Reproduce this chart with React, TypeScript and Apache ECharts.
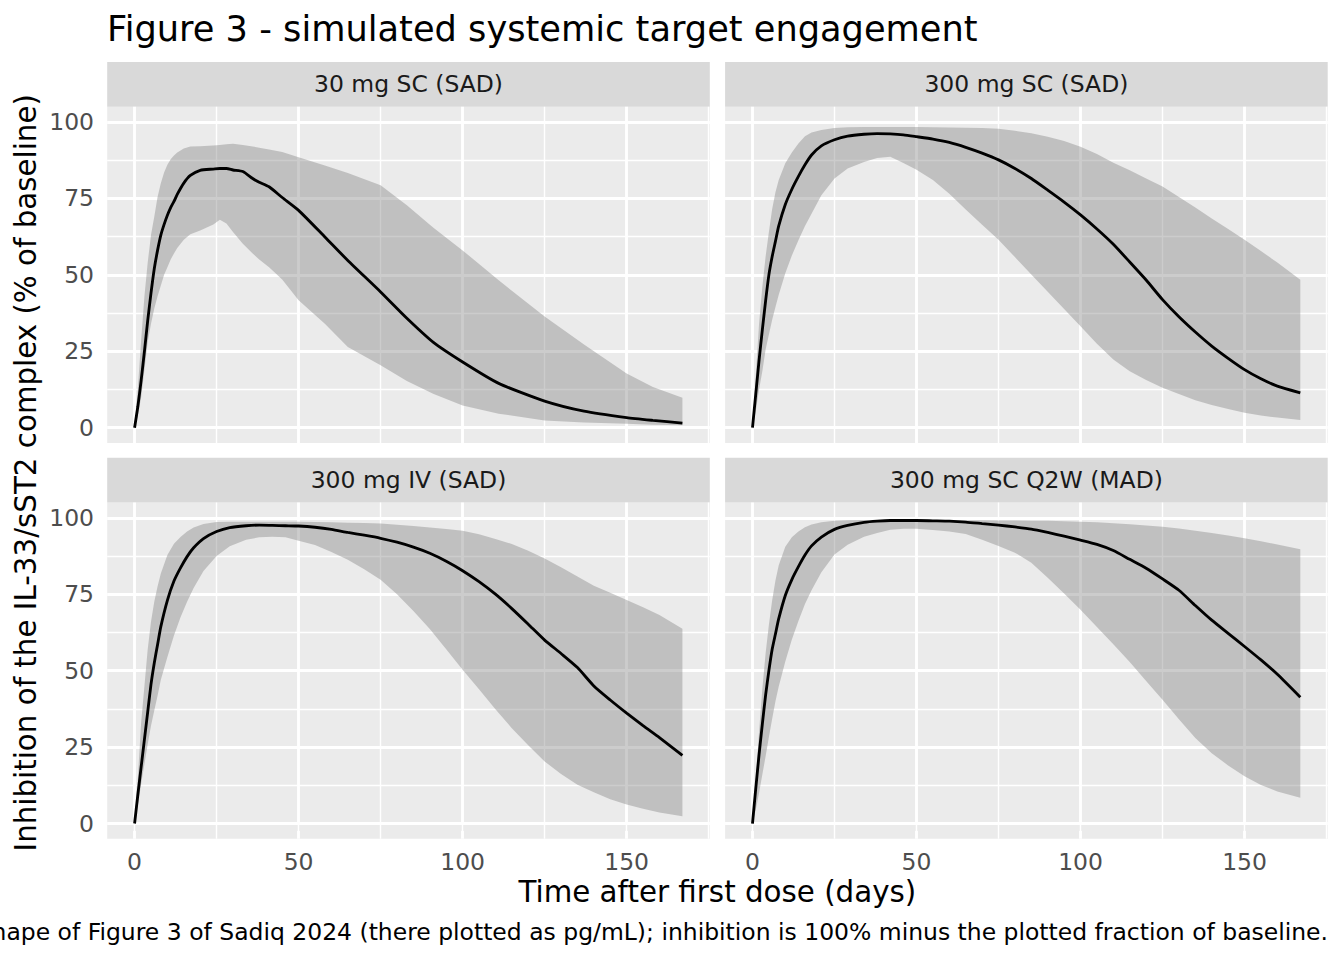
import React, { useEffect, useRef } from "react";
import * as echarts from "echarts";

const TITLE = "Figure 3 - simulated systemic target engagement";
const X_TITLE = "Time after first dose (days)";
const Y_TITLE = "Inhibition of the IL-33/sST2 complex (% of baseline)";
const CAPTION =
  "Shape of Figure 3 of Sadiq 2024 (there plotted as pg/mL); inhibition is 100% minus the plotted fraction of baseline.";
const PANEL_TITLES = ["30 mg SC (SAD)", "300 mg SC (SAD)", "300 mg IV (SAD)", "300 mg SC Q2W (MAD)"];

const X_TICKS = [0, 50, 100, 150];
const X_MINOR = [25, 75, 125, 175];
const Y_TICKS = [0, 25, 50, 75, 100];
const Y_MINOR = [12.5, 37.5, 62.5, 87.5];

// Panel 1: 30 mg SC (SAD)
const T1 = [0, 1, 2, 3, 4, 5, 6, 7, 8, 9, 10, 11, 12, 13, 15, 17, 20, 24, 26, 28, 30, 33, 36, 38, 41, 45, 50, 58, 65, 75, 83, 91, 100, 111, 125, 137, 150, 158, 167];
const MEAN1 = [0, 7, 15.5, 25, 35, 44, 52, 58, 63, 66.5, 69.5, 72, 74, 76.3, 80, 82.5, 84.2, 84.6, 84.8, 84.8, 84.3, 83.8, 81.5, 80.3, 78.8, 75.3, 71.1, 62.4, 54.7, 44.4, 35.8, 28.0, 21.5, 14.5, 8.7, 5.4, 3.3, 2.4, 1.5];
const LOW1 = [0, 4, 10, 19, 28, 34, 39, 43, 46.5, 50, 52.5, 55, 57, 58.8, 61.5, 63.3, 64.5, 66.5, 68, 66.8, 64, 60.2, 57, 55, 52.5, 48.5, 41.7, 34, 26.4, 20.4, 15.3, 11.1, 7.3, 4.6, 2.4, 1.7, 1.3, 1.0, 0.8];
const HIGH1 = [0, 13, 28.6, 43, 54, 63, 69, 75.5, 80, 83.5, 86, 87.8, 89, 90, 91.3, 92, 92.1, 92.3, 92.5, 92.7, 92.9, 92.5, 92, 91.6, 91, 90.2, 88.5, 85.8, 83.3, 79.3, 72.8, 65.5, 58, 48.2, 36.4, 27.2, 17.7, 13.3, 9.8];

// Panels 2-4 share the time grid
const T = [0, 1, 2, 3, 4, 5, 6, 7, 8, 10, 12, 14, 16, 18, 21, 25, 29, 34, 38, 42, 46, 50, 55, 60, 65, 70, 75, 80, 85, 90, 95, 100, 105, 110, 115, 120, 125, 130, 135, 140, 145, 150, 155, 160, 167];

// Panel 2: 300 mg SC (SAD)
const MEAN2 = [0, 11, 22, 32, 41.5, 50, 56, 61, 66, 73, 78, 82.2, 86, 89.2, 92.2, 94.2, 95.4, 96, 96.2, 96.1, 95.8, 95.2, 94.4, 93.3, 91.7, 89.8, 87.6, 84.8, 81.5, 77.7, 73.8, 69.6, 65, 60, 54.2, 48.3, 41.9, 36.3, 31.3, 26.7, 22.7, 19, 16, 13.6, 11.4];
const HIGH2 = [0, 17, 34, 46, 56, 64, 71.5, 77, 81, 86.5, 90, 93, 95.3, 96.6, 97.4, 98, 98.3, 98.4, 98.4, 98.4, 98.4, 98.4, 98.3, 98.2, 98.1, 98, 97.8, 97.1, 96.3, 95.2, 93.8, 91.9, 89.5, 86.7, 84.2, 81.5, 78.9, 75.5, 72, 68.4, 65, 61.5, 57.8, 54, 48.4];
const LOW2 = [0, 5.5, 12.5, 18.5, 25.6, 30.5, 35.3, 39.5, 43.5, 50.5, 56.3, 61.3, 66, 70, 76, 81.5, 84.8, 86.9, 88.2, 88.6, 86.6, 84.4, 81, 76.5, 71.4, 66.4, 61.5, 55.8, 50.1, 44.5, 38.8, 33.2, 27.5, 22.3, 18.5, 15.6, 13.1, 11, 9, 7.4, 6.1, 4.9, 4, 3.3, 2.5];

// Panel 3: 300 mg IV (SAD)
const MEAN3 = [0, 9.5, 18.5, 27.5, 36.5, 45.5, 52.5, 58.5, 64.4, 73, 79.3, 83.6, 87.3, 90.2, 93.2, 95.5, 96.8, 97.4, 97.6, 97.5, 97.4, 97.3, 96.9, 96.2, 95.2, 94.3, 93.3, 92, 90.4, 88.4, 85.8, 82.7, 79.1, 75, 70.3, 65.2, 60, 55.6, 51, 45, 40.4, 36.1, 32, 28.1, 22.3];
const HIGH3 = [0, 15, 33, 45, 57, 66, 72.5, 77.5, 81.8, 87.8, 91.5, 93.7, 95.5, 96.8, 98, 98.6, 98.7, 98.7, 98.7, 98.7, 98.7, 98.7, 98.6, 98.5, 98.4, 98.3, 98.1, 97.7, 97.3, 96.8, 96.3, 95.8, 94.6, 93.1, 91.4, 89.2, 86.7, 83.8, 80.8, 77.8, 75.5, 73.1, 70.7, 68.2, 63.7];
const LOW3 = [0, 6, 13, 19.5, 26, 32, 37, 41.8, 47, 54.5, 61.5, 67.5, 72.5, 77, 82.6, 87.5, 90.7, 92.8, 93.6, 93.8, 93.6, 92.5, 91.1, 88.8, 86.3, 83.2, 79.7, 75, 69.5, 63.6, 57, 50.3, 43.9, 37.4, 31.2, 25.6, 20.3, 16.2, 12.7, 10.2, 7.9, 6.2, 4.8, 3.6, 2.4];

// Panel 4: 300 mg SC Q2W (MAD)
const MEAN4 = [0, 11.5, 22.5, 32.5, 42, 50, 57, 62, 67, 74.6, 79.8, 84, 87.8, 90.8, 93.7, 96.2, 97.5, 98.5, 98.9, 99.1, 99.1, 99.1, 99, 98.9, 98.6, 98.1, 97.6, 97, 96.3, 95.2, 94, 92.7, 91.3, 89.3, 86.4, 83.5, 80, 76.3, 71.3, 66.5, 62.2, 57.9, 53.5, 48.8, 41.3];
const HIGH4 = [0, 14, 30, 44, 55.7, 65, 73, 79.5, 84.5, 90.5, 93.6, 95.5, 96.9, 97.8, 98.5, 99, 99.2, 99.3, 99.3, 99.3, 99.3, 99.3, 99.3, 99.3, 99.2, 99.2, 99.1, 99.1, 99, 99, 98.9, 98.7, 98.5, 98.2, 97.9, 97.5, 97.1, 96.5, 95.8, 95, 94.2, 93.3, 92.3, 91.3, 89.7];
const LOW4 = [0, 4.5, 10, 16, 22, 28.3, 34.3, 40, 44.8, 53, 60.2, 66.2, 71.8, 76.3, 82.2, 88, 91.2, 93.8, 95, 96.1, 96.4, 96.4, 96, 95.5, 94.7, 92.8, 90.8, 88.6, 85.3, 80.4, 75.2, 69.9, 64.3, 58.6, 52.8, 46.6, 40.5, 34.1, 28, 23, 19, 15.5, 12.6, 10.5, 8.4];

const PANEL_DATA = [
  { t: T1, mean: MEAN1, low: LOW1, high: HIGH1 },
  { t: T, mean: MEAN2, low: LOW2, high: HIGH2 },
  { t: T, mean: MEAN3, low: LOW3, high: HIGH3 },
  { t: T, mean: MEAN4, low: LOW4, high: HIGH4 },
];

const FONT = "DejaVu Sans";
const BASE = 29.33;
const SMALL = 23.47;
const MAJOR_W = 2.84;
const MINOR_W = 1.42;

const PANEL_W = 602.6;
const PANEL_H = 336.3;
const LEFTS = [107.2, 725.1, 107.2, 725.1];
const TOPS = [106.7, 106.7, 502.5, 502.5];
const STRIP_H = 44.8;

export default function App() {
  const ref = useRef<HTMLDivElement>(null);

  useEffect(() => {
    document.body.style.margin = "0";
    if (!ref.current) return;
    const chart = echarts.init(ref.current, undefined, { renderer: "svg" });

    const grids: any[] = [];
    const xAxes: any[] = [];
    const yAxes: any[] = [];
    const series: any[] = [];
    const graphics: any[] = [];

    for (let i = 0; i < 4; i++) {
      const bottomRow = i >= 2;
      const leftCol = i % 2 === 0;
      grids.push({
        left: LEFTS[i],
        top: TOPS[i],
        width: PANEL_W,
        height: PANEL_H,
        show: true,
        backgroundColor: "#EBEBEB",
        borderWidth: 0,
      });
      xAxes.push({
        gridIndex: i,
        type: "value",
        min: -8.35,
        max: 175.35,
        axisLine: { show: false },
        splitLine: { show: false },
        axisTick: {
          show: bottomRow,
          customValues: X_TICKS,
          length: 7.33,
          lineStyle: { color: "#333333", width: MAJOR_W },
        },
        axisLabel: {
          show: bottomRow,
          customValues: X_TICKS,
          color: "#4D4D4D",
          fontSize: SMALL,
          fontFamily: FONT,
          margin: 11.5,
        },
      });
      yAxes.push({
        gridIndex: i,
        type: "value",
        min: -5,
        max: 105,
        axisLine: { show: false },
        splitLine: { show: false },
        axisTick: {
          show: leftCol,
          customValues: Y_TICKS,
          length: 7.33,
          lineStyle: { color: "#333333", width: MAJOR_W },
        },
        axisLabel: {
          show: leftCol,
          customValues: Y_TICKS,
          color: "#4D4D4D",
          fontSize: SMALL,
          fontFamily: FONT,
          margin: 13.2,
        },
      });

      const gridLines: any[] = [];
      X_MINOR.forEach((v) => gridLines.push({ xAxis: v, lineStyle: { width: MINOR_W } }));
      Y_MINOR.forEach((v) => gridLines.push({ yAxis: v, lineStyle: { width: MINOR_W } }));
      X_TICKS.forEach((v) => gridLines.push({ xAxis: v, lineStyle: { width: MAJOR_W } }));
      Y_TICKS.forEach((v) => gridLines.push({ yAxis: v, lineStyle: { width: MAJOR_W } }));

      series.push({
        type: "line",
        xAxisIndex: i,
        yAxisIndex: i,
        data: [],
        silent: true,
        z: 1,
        markLine: {
          silent: true,
          z: 1,
          symbol: ["none", "none"],
          label: { show: false },
          emphasis: { disabled: true },
          lineStyle: { color: "#FFFFFF", type: "solid", opacity: 1 },
          data: gridLines,
        },
      });

      const p = PANEL_DATA[i];
      series.push({
        type: "custom",
        xAxisIndex: i,
        yAxisIndex: i,
        silent: true,
        z: 2,
        data: p.t.map((t, k) => [t, p.low[k], p.high[k]]),
        encode: { x: 0, y: [1, 2] },
        renderItem: (params: any, api: any) => {
          if (params.dataIndex !== 0) return null;
          const pts: number[][] = [];
          for (let k = 0; k < p.t.length; k++) pts.push(api.coord([p.t[k], p.high[k]]));
          for (let k = p.t.length - 1; k >= 0; k--) pts.push(api.coord([p.t[k], p.low[k]]));
          return {
            type: "polygon",
            shape: { points: pts, smooth: 0 },
            style: { fill: "rgba(127,127,127,0.4)", stroke: "none" },
          };
        },
      });
      series.push({
        type: "line",
        xAxisIndex: i,
        yAxisIndex: i,
        data: p.t.map((t, k) => [t, p.mean[k]]),
        symbol: "none",
        smooth: 0.2,
        silent: true,
        lineStyle: { color: "#000000", width: MAJOR_W },
        z: 3,
      });

      // strip
      graphics.push({
        type: "rect",
        shape: { x: LEFTS[i], y: TOPS[i] - STRIP_H, width: PANEL_W, height: STRIP_H },
        style: { fill: "#D9D9D9" },
        silent: true,
      });
      graphics.push({
        type: "text",
        x: LEFTS[i] + PANEL_W / 2,
        y: TOPS[i] - STRIP_H / 2,
        silent: true,
        style: {
          text: PANEL_TITLES[i],
          fill: "#1A1A1A",
          fontSize: SMALL,
          fontFamily: FONT,
          align: "center",
          verticalAlign: "middle",
        },
      });
    }

    graphics.push({
      type: "text",
      x: 107,
      y: 28.5,
      silent: true,
      style: { text: TITLE, fill: "#000000", fontSize: 35.2, fontFamily: FONT, align: "left", verticalAlign: "middle" },
    });
    graphics.push({
      type: "text",
      x: 717.4,
      y: 891.9,
      silent: true,
      style: { text: X_TITLE, fill: "#000000", fontSize: BASE, fontFamily: FONT, align: "center", verticalAlign: "middle" },
    });
    graphics.push({
      type: "text",
      x: 25.9,
      y: 472.8,
      rotation: Math.PI / 2,
      silent: true,
      style: { text: Y_TITLE, fill: "#000000", fontSize: BASE, fontFamily: FONT, align: "center", verticalAlign: "middle" },
    });
    graphics.push({
      type: "text",
      x: 1328,
      y: 931.9,
      silent: true,
      style: { text: CAPTION, fill: "#000000", fontSize: SMALL, fontFamily: FONT, align: "right", verticalAlign: "middle" },
    });

    chart.setOption({
      animation: false,
      textStyle: { fontFamily: FONT },
      grid: grids,
      xAxis: xAxes,
      yAxis: yAxes,
      series,
      graphic: { elements: graphics },
    });

    return () => {
      chart.dispose();
    };
  }, []);

  return <div ref={ref} style={{ width: 1344, height: 960 }} />;
}
